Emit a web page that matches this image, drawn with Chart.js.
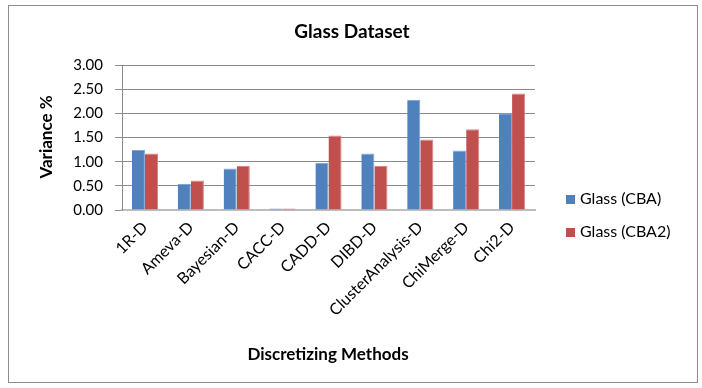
<!DOCTYPE html>
<html>
<head>
<meta charset="utf-8">
<script src="https://cdn.jsdelivr.net/npm/chart.js@4"></script>
<style>
  html, body { margin: 0; padding: 0; background: #fff; }
  #wrap { width: 702px; height: 388px; position: relative; }
</style>
</head>
<body>
<div id="wrap"><canvas id="c" width="702" height="388"></canvas></div>
<script>
// Discretizing methods on the category axis
const methods = ['1R-D', 'Ameva-D', 'Bayesian-D', 'CACC-D', 'CADD-D', 'DIBD-D', 'ClusterAnalysis-D', 'ChiMerge-D', 'Chi2-D'];
// Variance % per method
const glassCBA  = [1.24, 0.54, 0.86, 0.03, 0.98, 1.17, 2.28, 1.23, 2.00];
const glassCBA2 = [1.17, 0.61, 0.91, 0.03, 1.54, 0.91, 1.46, 1.67, 2.41];
const seriesNames = ['Glass (CBA)', 'Glass (CBA2)'];
const yTicks = [0, 0.5, 1, 1.5, 2, 2.5, 3];

const chartTitle = 'Glass Dataset';
const yTitle = 'Variance %';
const xTitle = 'Discretizing Methods';

const FONT = 'Lato, "Open Sans", sans-serif';

// Frame, titles and legend drawn on the canvas
const decor = {
  id: 'decor',
  beforeDraw(chart) {
    const ctx = chart.ctx;
    ctx.save();
    ctx.fillStyle = '#fff';
    ctx.fillRect(0, 0, chart.width, chart.height);
    ctx.strokeStyle = '#8c8c8c';
    ctx.lineWidth = 1;
    ctx.strokeRect(8.5, 5.5, 689, 377);
    ctx.restore();
  },
  afterDraw(chart) {
    const ctx = chart.ctx;
    ctx.save();
    ctx.fillStyle = '#000';
    ctx.textAlign = 'center';
    ctx.textBaseline = 'middle';
    ctx.font = 'bold 19px ' + FONT;
    ctx.fillText(chartTitle, 352, 32);

    ctx.font = 'bold 17px ' + FONT;
    ctx.fillText(xTitle, 328, 355);

    ctx.save();
    ctx.translate(47, 137);
    ctx.rotate(-Math.PI / 2);
    ctx.fillText(yTitle, 0, 0);
    ctx.restore();

    // legend
    ctx.textAlign = 'left';
    ctx.font = '16px ' + FONT;
    chart.data.datasets.forEach((ds, i) => {
      const y = 199 + i * 33;
      ctx.fillStyle = ds.backgroundColor;
      ctx.fillRect(566, y - 4, 9, 9);
      ctx.fillStyle = '#000';
      ctx.fillText(ds.label, 580, y);
    });
    ctx.restore();
  }
};

new Chart(document.getElementById('c'), {
  type: 'bar',
  data: {
    labels: methods,
    datasets: [
      { label: seriesNames[0], data: glassCBA, backgroundColor: '#4F81BD', borderColor: '#7FA3D2', borderWidth: {top: 1, left: 0, right: 1, bottom: 0} },
      { label: seriesNames[1], data: glassCBA2, backgroundColor: '#C0504D', borderColor: '#D98684', borderWidth: {top: 1, left: 0, right: 1, bottom: 0} }
    ]
  },
  options: {
    responsive: false,
    animation: false,
    devicePixelRatio: 1,
    layout: { padding: { top: 65, right: 167, left: 0, bottom: 0 } },
    plugins: {
      legend: { display: false },
      title: { display: false },
      tooltip: { enabled: false }
    },
    datasets: { bar: { categoryPercentage: 0.57, barPercentage: 1.0 } },
    scales: {
      x: {
        afterFit(s) { s.height = 178; },
        grid: { display: false, drawTicks: false },
        border: { display: true, color: '#bdbdbd', width: 2 },
        ticks: {
          color: '#000',
          font: { family: FONT, size: 16 },
          maxRotation: 45, minRotation: 45,
          padding: 8,
          autoSkip: false
        }
      },
      y: {
        min: 0, max: 3,
        afterFit(s) { s.width = 122; },
        afterBuildTicks(s) { s.ticks = yTicks.map(v => ({ value: v })); },
        grid: { color: '#8a8a8a', tickLength: 7, lineWidth: 1 },
        border: { display: true, color: '#8a8a8a' },
        ticks: {
          color: '#000',
          font: { family: FONT, size: 15 },
          padding: 12,
          callback: v => Number(v).toFixed(2)
        }
      }
    }
  },
  plugins: [decor]
});
</script>
</body>
</html>
